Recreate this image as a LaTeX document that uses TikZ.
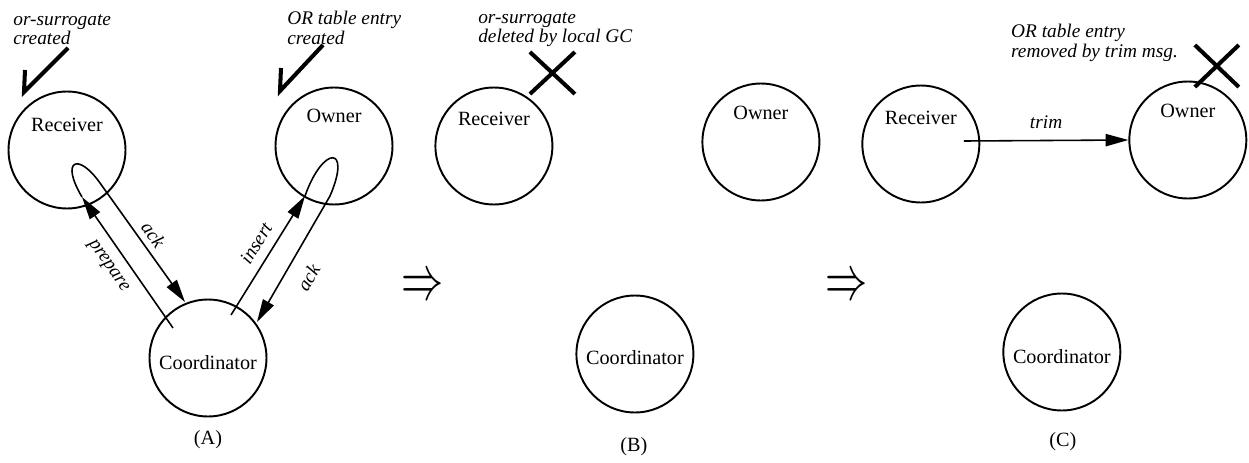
\documentclass[tikz,border=0pt]{standalone}
\usepackage{fontspec}
\setmainfont{Liberation Serif}
\usepackage{graphicx}
\usetikzlibrary{arrows.meta}
\begin{document}
\begin{tikzpicture}[>={Triangle[length=13pt,width=7pt]}, x=0.02cm, y=-0.02cm,
  proc/.style={draw, circle, line width=1.1pt, minimum size=2.34cm, inner sep=0pt},
  pname/.style={font=\fontsize{11.5}{13}\selectfont},
  msg/.style={->, line width=0.9pt},
  msgtext/.style={font=\fontsize{11}{13}\selectfont\itshape},
  note/.style={font=\fontsize{11}{11}\selectfont\itshape, align=left, anchor=north west, inner sep=0pt},
  tick/.style={line width=2.3pt}]
\useasboundingbox (0,0) rectangle (1249,463);

\begin{scope}
\node[proc] (recA) at (67,150) {};
\node[proc] (ownA) at (334,146) {};
\node[proc] (coordA) at (208,358) {};
\node[pname] (recAname) at ([shift={(0,-25)}]recA.center) {Receiver};
\node[pname] (ownAname) at ([shift={(0,-30)}]ownA.center) {Owner};
\node[pname] (coordAname) at ([shift={(0,5)}]coordA.center) {Coordinator};
\draw[msg] ([shift={(-35,-30)}]coordA.center) -- node[msgtext, sloped, below=3pt, pos=.55]{prepare} ([shift={(15,47)}]recA.center);
\draw[msg] ([shift={(15,47)}]recA.center) .. controls ([shift={(-7,10)}]recA.center) and ([shift={(11,2)}]recA.center) .. ([shift={(33,33)}]recA.center) -- node[msgtext, sloped, above]{ack} ([shift={(-23,-56)}]coordA.center);
\draw[msg] ([shift={(23,-43)}]coordA.center) -- node[msgtext, sloped, above=2pt, pos=.53]{insert} ([shift={(-29,50)}]ownA.center);
\draw[msg] ([shift={(-29,50)}]ownA.center) .. controls ([shift={(-11,-1)}]ownA.center) and ([shift={(18,-1)}]ownA.center) .. ([shift={(-4,50)}]ownA.center) -- node[msgtext, sloped, below=5pt, pos=.56]{ack} ([shift={(49,-36)}]coordA.center);
\draw[tick] (25,70) -- (24,92) -- (68,48);
\draw[tick] (281,68) -- (280,91) -- (323,45);
\node[note] (noteA1) at (13,14) {or-surrogate\\created};
\node[note] (noteA2) at (287,11) {OR table entry\\created};
\node[pname] (capA) at (208,440) {(A)};
\end{scope}

\begin{scope}[xshift=8.54cm, yshift=0.08cm]
\node[proc] (recB) at (67,150) {};
\node[proc] (ownB) at (334,146) {};
\node[proc] (coordB) at (208,358) {};
\node[pname] (recBname) at ([shift={(0,-27)}]recB.center) {Receiver};
\node[pname] (ownBname) at ([shift={(0,-29)}]ownB.center) {Owner};
\node[pname] (coordBname) at ([shift={(0,4)}]coordB.center) {Coordinator};
\draw[tick] (103,56) -- (148,98) (148,56) -- (103,98);
\node[note] (noteB) at (51,16) {or-surrogate\\deleted by local GC};
\node[pname] (capB) at (207,451) {(B)};
\end{scope}

\begin{scope}[xshift=17.08cm, yshift=0.12cm]
\node[proc] (recC) at (67,150) {};
\node[proc] (ownC) at (334,146) {};
\node[proc] (coordC) at (208,358) {};
\node[pname] (recCname) at ([shift={(0,-26)}]recC.center) {Receiver};
\node[pname] (ownCname) at ([shift={(0,-29)}]ownC.center) {Owner};
\node[pname] (coordCname) at ([shift={(0,5)}]coordC.center) {Coordinator};
\draw[msg] ([shift={(43,-3)}]recC.center) -- node[msgtext, above=3pt]{trim} (ownC.west);
\draw[tick] (341,51) -- (385,93) (385,51) -- (341,93);
\node[note] (noteC) at (157,30) {OR table entry\\removed by trim msg.};
\node[pname] (capC) at (209,448) {(C)};
\end{scope}

\foreach \x in {423,847}
{
    \node (imp\x) at (\x,288) {\scalebox{2.4}[3.6]{$\Rightarrow$}};
}
\end{tikzpicture}
\end{document}
